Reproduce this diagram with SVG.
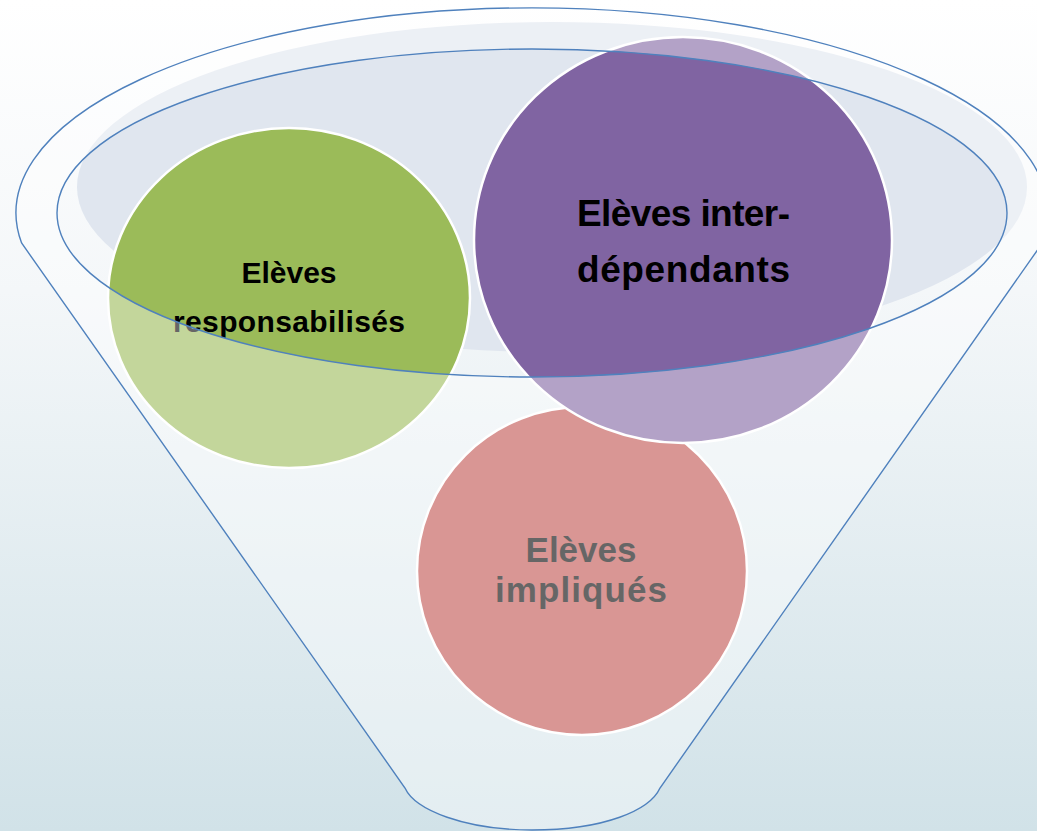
<svg xmlns="http://www.w3.org/2000/svg" width="1037" height="831" viewBox="0 0 1037 831">
  <defs>
    <linearGradient id="bg" x1="0" y1="0" x2="0" y2="1">
      <stop offset="0" stop-color="#FFFFFF"/>
      <stop offset="0.35" stop-color="#F4F7F9"/>
      <stop offset="1" stop-color="#D1E2E8"/>
    </linearGradient>
    <style>
      .circle { stroke: #FFFFFF; stroke-width: 2.5; }
      .label { font-family: "Liberation Sans", Arial, sans-serif; font-weight: bold; fill: #000000; text-anchor: middle; }
      .outline { fill: none; stroke: #4F81BD; stroke-width: 1.4; }
    </style>
  </defs>

  <rect x="0" y="0" width="1037" height="831" fill="url(#bg)"/>

  <g id="funnel-interior">
    <ellipse cx="552" cy="187" rx="475" ry="165" fill="#E0E6EF"/>
  </g>

  <g id="node-impliques">
    <ellipse class="circle" cx="582" cy="571" rx="165" ry="164" fill="#C0504D"/>
    <text class="label" font-size="35" x="581" y="562">Elèves</text>
    <text class="label" font-size="35" x="581" y="602" textLength="172" lengthAdjust="spacing">impliqués</text>
  </g>

  <g id="node-responsabilises">
    <ellipse class="circle" cx="289" cy="298" rx="181" ry="170" fill="#9BBB59"/>
    <text class="label" font-size="30" x="289" y="283">Elèves</text>
    <text class="label" font-size="30" x="289" y="332" textLength="232" lengthAdjust="spacing">responsabilisés</text>
  </g>

  <g id="node-interdependants">
    <ellipse class="circle" cx="683" cy="240" rx="209" ry="203" fill="#8064A2"/>
    <text class="label" font-size="37" x="683.5" y="226" textLength="213" lengthAdjust="spacing">Elèves inter-</text>
    <text class="label" font-size="37" x="683.5" y="282" textLength="213" lengthAdjust="spacing">dépendants</text>
  </g>

  <g id="funnel">
    <path fill="#FFFFFF" fill-opacity="0.4" fill-rule="evenodd"
      d="M21.6,243 A516,205 0 1 1 1042.4,243 L660,788 C650,810 605,830 532,830 C465,830 415,810 405,788 Z
         M57,213 A475,164 0 1 0 1007,213 A475,164 0 1 0 57,213 Z"/>
    <path class="outline" d="M21.6,243 A516,205 0 1 1 1042.4,243 L660,788 C650,810 605,830 532,830 C465,830 415,810 405,788 Z"/>
    <ellipse class="outline" cx="532" cy="213" rx="475" ry="164"/>
  </g>

  <g id="connectors"/>
</svg>
